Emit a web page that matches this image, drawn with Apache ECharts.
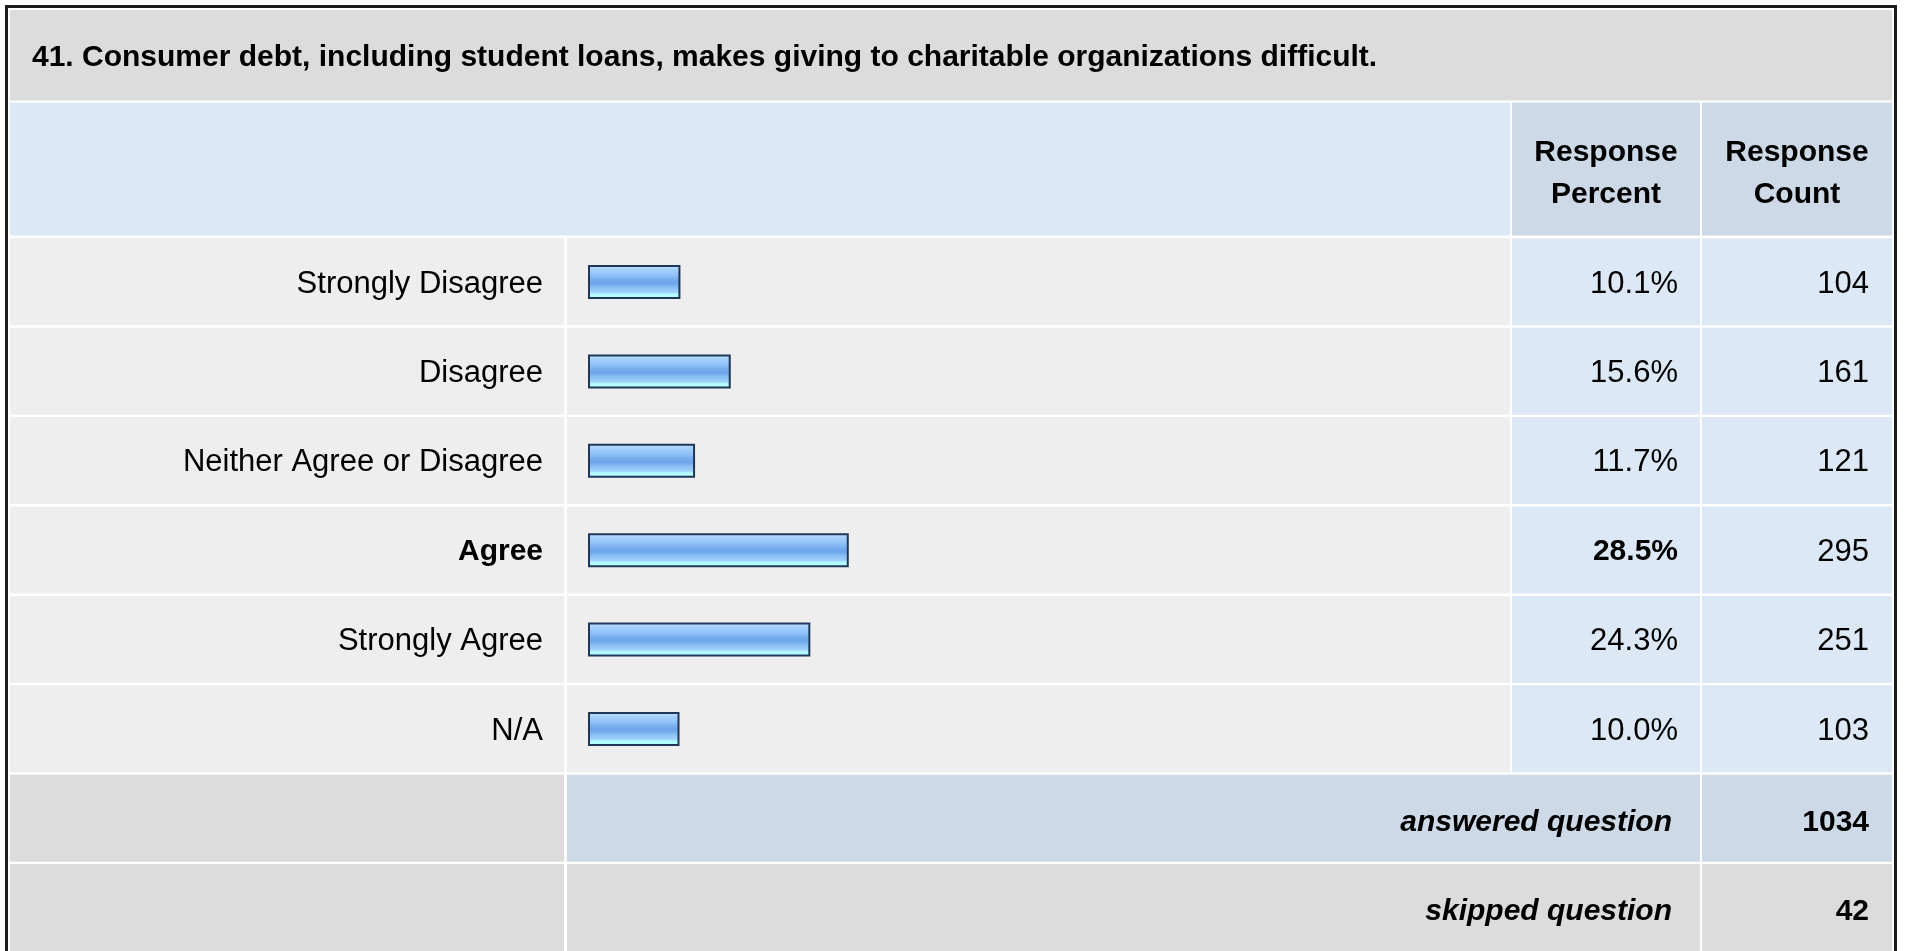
<!DOCTYPE html>
<html><head><meta charset="utf-8">
<script src="https://cdn.jsdelivr.net/npm/echarts@6/dist/echarts.min.js"></script>
<style>html,body{margin:0;padding:0;background:#fff;} #c{width:1907px;height:951px;}</style>
</head><body><div id="c"></div>
<script>
// ---- data ----
const questionTitle = '41. Consumer debt, including student loans, makes giving to charitable organizations difficult.';
const categories = ['Strongly Disagree', 'Disagree', 'Neither Agree or Disagree', 'Agree', 'Strongly Agree', 'N/A'];
const percents = [10.1, 15.6, 11.7, 28.5, 24.3, 10.0];
const counts = [104, 161, 121, 295, 251, 103];
const headerPercent = ['Response', 'Percent'];
const headerCount = ['Response', 'Count'];
const answeredLabel = 'answered question';
const answeredCount = 1034;
const skippedLabel = 'skipped question';
const skippedCount = 42;

// ---- layout ----
const FONT = '"Liberation Sans", Arial, Helvetica, sans-serif';
const L = 10, R = 1892;
const colBar = 567, colPct = 1512, colCnt = 1702, colLabelEnd = 564, colBarEnd = 1510, colPctEnd = 1700;
const gridTop = 237.3, pitch = 89.4;
const n = categories.length;
const maxIdx = percents.indexOf(Math.max(...percents));

const C_TITLE = '#dcdcdc', C_HEAD = '#dce8f5', C_HEAD2 = '#cdd9e6', C_ROW = '#eeeeee', C_ROWV = '#dce8f5';

const g = [];
function rect(x, y, w, h, fill) {
  g.push({type: 'rect', z: -5, silent: true, shape: {x: x, y: y, width: w, height: h}, style: {fill: fill}});
}
function text(x, y, s, opt) {
  g.push({type: 'text', z: 10, silent: true, x: x, y: y, style: Object.assign({
    text: s, fill: '#000', font: '31px ' + FONT, textVerticalAlign: 'middle'
  }, opt)});
}
// outer border
g.push({type: 'rect', z: -4, silent: true, shape: {x: 6.5, y: 6.5, width: 1889, height: 980}, style: {fill: null, stroke: '#1b1b1b', lineWidth: 3}});
// title band
rect(L, 10, R - L, 90.5, C_TITLE);
text(32, 58, questionTitle, {font: 'bold 30px ' + FONT});
// header
rect(L, 102.5, colBarEnd - L, 133, C_HEAD);
rect(colPct, 102.5, colPctEnd - colPct, 133, C_HEAD2);
rect(colCnt, 102.5, R - colCnt, 133, C_HEAD2);
text((colPct + colPctEnd) / 2, 174, headerPercent.join('\n'), {font: 'bold 30px ' + FONT, textAlign: 'center', lineHeight: 42});
text((colCnt + R) / 2, 174, headerCount.join('\n'), {font: 'bold 30px ' + FONT, textAlign: 'center', lineHeight: 42});
// body rows
for (let i = 0; i < n; i++) {
  const y = gridTop + i * pitch + 1, h = pitch - 2.4;
  rect(L, y, colLabelEnd - L, h, C_ROW);
  rect(colBar, y, colBarEnd - colBar, h, C_ROW);
  rect(colPct, y, colPctEnd - colPct, h, C_ROWV);
  rect(colCnt, y, R - colCnt, h, C_ROWV);
}
// footer rows
const fy1 = gridTop + n * pitch + 1, fy2 = gridTop + (n + 1) * pitch + 1, fh = pitch - 2.4;
rect(L, fy1, colLabelEnd - L, fh, C_TITLE);
rect(colBar, fy1, colPctEnd - colBar, fh, C_HEAD2);
rect(colCnt, fy1, R - colCnt, fh, C_HEAD2);
rect(L, fy2, colLabelEnd - L, fh + 10, C_TITLE);
rect(colBar, fy2, colPctEnd - colBar, fh + 10, C_TITLE);
rect(colCnt, fy2, R - colCnt, fh + 10, C_TITLE);
text(1672, fy1 + fh / 2 + 5, answeredLabel, {font: 'italic bold 30px ' + FONT, textAlign: 'right'});
text(1869, fy1 + fh / 2 + 5, String(answeredCount), {font: 'bold 30px ' + FONT, textAlign: 'right'});
text(1672, fy2 + fh / 2 + 4, skippedLabel, {font: 'italic bold 30px ' + FONT, textAlign: 'right'});
text(1869, fy2 + fh / 2 + 4, String(skippedCount), {font: 'bold 30px ' + FONT, textAlign: 'right'});

const rich = {
  n: {fontSize: 31, color: '#000', fontFamily: FONT, padding: [4, 0, 0, 0]},
  b: {fontSize: 30, fontWeight: 'bold', color: '#000', fontFamily: FONT, padding: [4, 0, 0, 0]}
};
function fmt() {
  return function (v, idx) { return (idx === maxIdx ? '{b|' : '{n|') + v + '}'; };
}
const hiddenAxis = {axisLine: {show: false}, axisTick: {show: false}, splitLine: {show: false}};

const chart = echarts.init(document.getElementById('c'), null, {renderer: 'canvas'});
chart.setOption({
  backgroundColor: '#ffffff',
  animation: false,
  graphic: g,
  grid: {left: 588, width: 915, top: gridTop, height: pitch * n},
  xAxis: Object.assign({type: 'value', min: 0, max: 100, axisLabel: {show: false}}, hiddenAxis),
  yAxis: [
    Object.assign({type: 'category', inverse: true, data: categories, position: 'left',
      axisLabel: {interval: 0, margin: 45, formatter: fmt(), rich: rich}}, hiddenAxis),
    Object.assign({type: 'category', inverse: true, position: 'right', offset: 0,
      data: percents.map(p => p.toFixed(1) + '%'),
      axisLabel: {interval: 0, margin: 175, align: 'right', formatter: fmt(), rich: rich}}, hiddenAxis),
    Object.assign({type: 'category', inverse: true, position: 'right', offset: 191,
      data: counts.map(String),
      axisLabel: {interval: 0, margin: 175, align: 'right', formatter: function (v) { return '{n|' + v + '}'; }, rich: rich}}, hiddenAxis)
  ],
  series: [{
    type: 'bar',
    data: percents,
    barWidth: 34,
    itemStyle: {
      borderColor: '#1f3759',
      borderWidth: 2,
      color: new echarts.graphic.LinearGradient(0, 0, 0, 1, [
        {offset: 0, color: '#cfe8ff'},
        {offset: 0.12, color: '#a6d1fc'},
        {offset: 0.3, color: '#90c2f8'},
        {offset: 0.45, color: '#74aaec'},
        {offset: 0.55, color: '#6ea6ea'},
        {offset: 0.65, color: '#86bdf3'},
        {offset: 0.8, color: '#9fd2fa'},
        {offset: 0.86, color: '#b2fbff'},
        {offset: 1, color: '#b2ffff'}
      ])
    }
  }]
});
</script>
</body></html>
